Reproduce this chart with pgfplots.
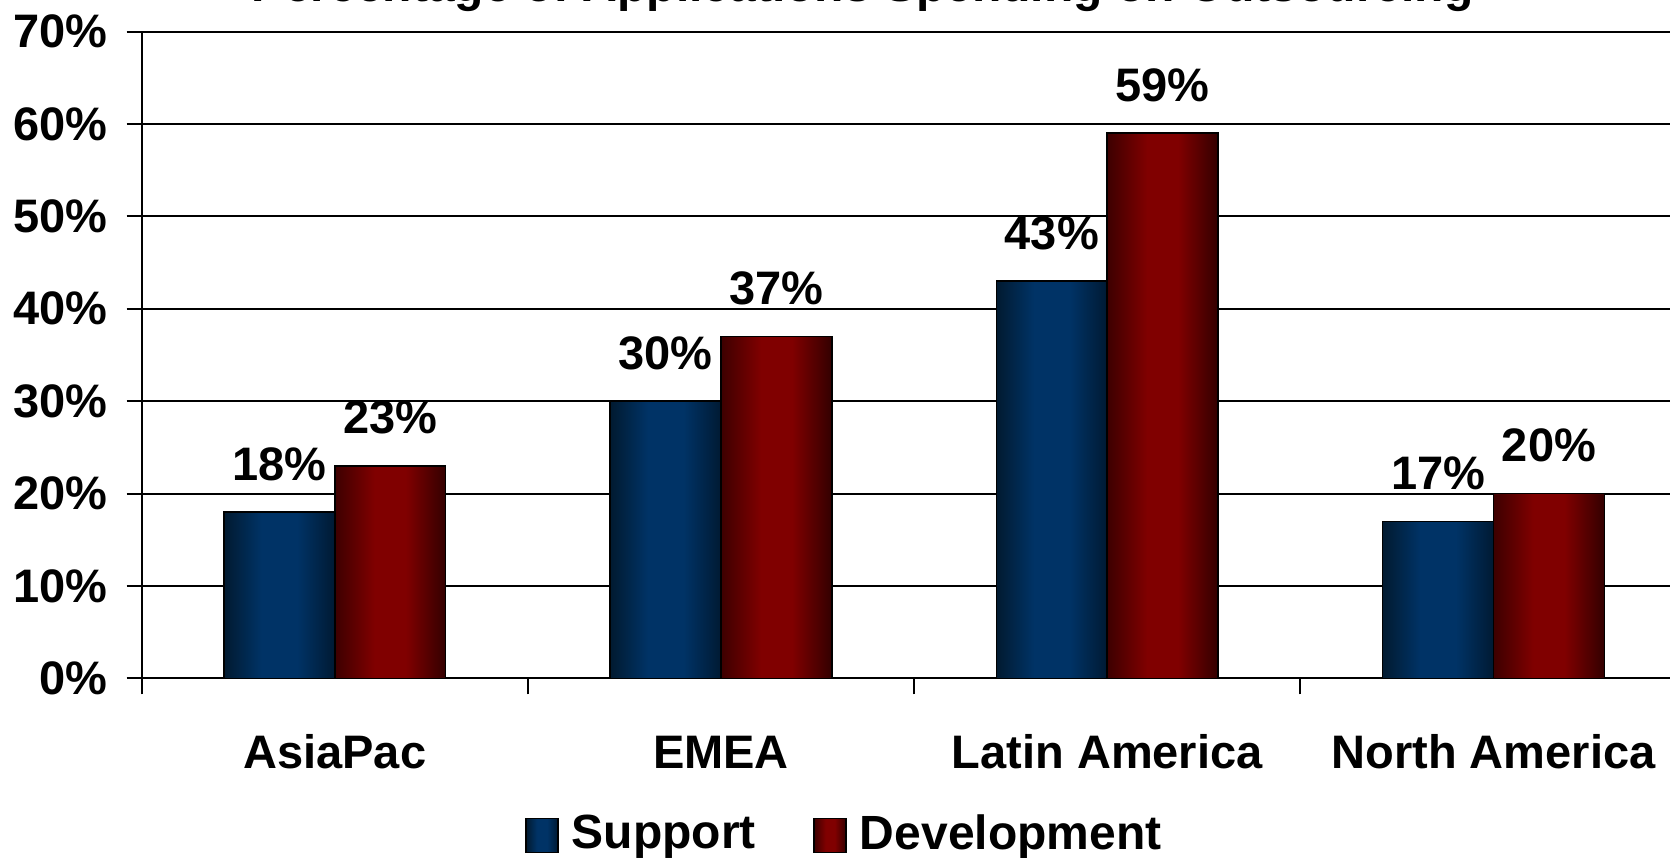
\documentclass[border=0pt]{standalone}
\usepackage{pgfplots}
\pgfplotsset{compat=1.18}
\usepackage{fontspec}
\setmainfont{Liberation Sans}
\definecolor{blL}{HTML}{011A30}
\definecolor{blM}{HTML}{003366}
\definecolor{blR}{HTML}{001A33}
\definecolor{rdL}{HTML}{3D0000}
\definecolor{rdM}{HTML}{800000}
\definecolor{rdR}{HTML}{330000}
\pgfdeclarehorizontalshading{blueBar}{100bp}{color(0bp)=(blL); color(25bp)=(blL); color(42bp)=(blM); color(58bp)=(blM); color(75bp)=(blR); color(100bp)=(blR)}
\pgfdeclarehorizontalshading{redBar}{100bp}{color(0bp)=(rdL); color(25bp)=(rdL); color(43bp)=(rdM); color(57bp)=(rdM); color(75bp)=(rdR); color(100bp)=(rdR)}
\pgfplotsset{
  sup/.style={draw=black, line width=0.8pt, shade, shading=blueBar, bar shift=-0.1435},
  dev/.style={draw=black, line width=0.8pt, shade, shading=redBar, bar shift=0.1435},
}
\begin{document}
\begin{tikzpicture}
\begin{axis}[
  at={(0,0)}, anchor=south west,
  scale only axis, width=764.2pt, height=323.4pt,
  xmin=-0.5, xmax=3.457, ymin=0, ymax=70,
  axis x line*=bottom, axis y line*=left,
  axis line style={line width=1pt, black},
  ymajorgrids, grid style={line width=1pt, black},
  ytick={0,10,20,30,40,50,60,70},
  yticklabels={0\%,10\%,20\%,30\%,40\%,50\%,60\%,70\%},
  xtick={0,1,2,3},
  xticklabels={AsiaPac,EMEA,Latin America,North America},
  minor xtick={-0.5,0.5,1.5,2.5},
  tick align=outside, major tick length=7.5pt, minor tick length=8pt,
  major x tick style={draw=none},
  minor x tick style={line width=1pt, black},
  major y tick style={line width=1pt, black},
  tick label style={font=\bfseries\fontsize{23.5}{24}\selectfont, text=black},
  yticklabel style={anchor=east, inner sep=0pt, xshift=-9.3pt},
  xticklabel style={anchor=base, inner sep=0pt, yshift=-37.6pt},
  title={Percentage of Applications Spending on Outsourcing},
  title style={at={(axis description cs:0.4718,1)}, anchor=base, yshift=8.85pt, font=\bfseries\fontsize{24}{24}\selectfont},
  ybar=0pt, bar width=0.287,
  /pgf/number format/assume math mode=true,
  nodes near coords={\pgfmathprintnumber{\pgfplotspointmeta}\%},
  every node near coord/.append style={anchor=base, yshift=16pt, text=black, font=\bfseries\fontsize{23.5}{24}\selectfont},
  legend columns=2,
  legend style={at={(axis description cs:0.2508,-0.2098)}, anchor=north west, draw=none, fill=none, inner sep=0pt,
    nodes={inner sep=0pt}, font=\bfseries\fontsize{24}{24}\selectfont,
    /tikz/every odd column/.append style={column sep=6.5pt},
    /tikz/every even column/.append style={column sep=28.75pt}},
  legend cell align=left,
  every axis plot post/.append style={legend image code/.code={\draw[##1, line width=0.8pt] (0pt,-9.5pt) rectangle (16pt,7.5pt);}},
]
% Support
\addplot[sup] coordinates {(0,18)};
\addlegendentry{Support}
\addplot[dev] coordinates {(0,23)};
\addlegendentry{Development}
\addplot[sup, forget plot] coordinates {(1,30)};
\addplot[sup, forget plot] coordinates {(2,43)};
\addplot[sup, forget plot] coordinates {(3,17)};
% Development
\addplot[dev, forget plot] coordinates {(1,37)};
\addplot[dev, forget plot] coordinates {(2,59)};
\addplot[dev, forget plot] coordinates {(3,20)};
\end{axis}
\pgfresetboundingbox
\path[use as bounding box] (-70.8pt,-89.3pt) rectangle (764.2pt,339.2pt);
\end{tikzpicture}
\end{document}
